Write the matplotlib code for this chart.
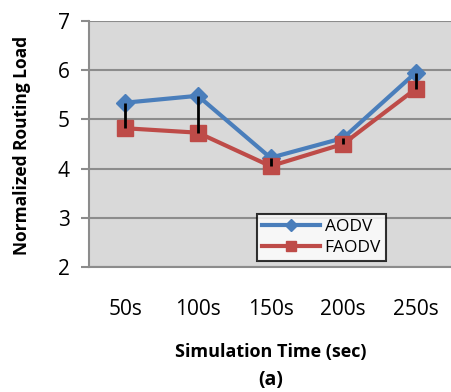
import numpy as np
import matplotlib
matplotlib.use("Agg")
import matplotlib.pyplot as plt

plt.rcParams['font.family'] = ['Open Sans', 'DejaVu Sans']

# data
times = ['50s', '100s', '150s', '200s', '250s']
aodv = [5.34, 5.48, 4.22, 4.62, 5.95]
faodv = [4.82, 4.73, 4.05, 4.50, 5.62]

fig = plt.figure(figsize=(4.51, 3.92), dpi=100)
ax = fig.add_axes([89/451, 1 - 267/392, 363/451, 246/392])
ax.set_facecolor('#d9d9d9')

x = np.arange(len(times))
ax.plot(x, aodv, color='#4a7ebb', lw=3, marker='D', ms=9, label='AODV', zorder=3)
ax.plot(x, faodv, color='#be4b48', lw=3, marker='s', ms=11, label='FAODV', zorder=3)
# high-low lines between series
ax.vlines(x, faodv, aodv, color='black', lw=2, zorder=4)

ax.set_xlim(-0.5, 4.5)
ax.set_ylim(2, 7)
ax.set_yticks([2, 3, 4, 5, 6, 7])
ax.set_xticks(x)
ax.set_xticklabels(times)
ax.yaxis.grid(True, color='#8c8c8c', lw=1.5)
ax.set_axisbelow(True)
for s in ['top', 'right', 'bottom']:
    ax.spines[s].set_visible(False)
ax.spines['left'].set_color('#8c8c8c')
ax.spines['left'].set_linewidth(1.5)
ax.tick_params(axis='y', length=6, width=1.5, color='#8c8c8c', labelsize=15, pad=8)
ax.tick_params(axis='x', length=0, labelsize=15, pad=23)
ax.axhline(2, color='#8c8c8c', lw=1.5, clip_on=False)

leg = ax.legend(loc='upper left', bbox_to_anchor=((257-89)/363, (267-214)/246),
                fontsize=12.5, frameon=True, fancybox=False, borderaxespad=0,
                handlelength=3.3, labelspacing=0.25, borderpad=0.3, handletextpad=0.3,
                markerscale=0.7)
leg.get_frame().set_edgecolor('black')
leg.get_frame().set_linewidth(1.5)

fig.text(22/451, 1 - 145/392, 'Normalized Routing Load', rotation=90, ha='center', va='center',
         fontsize=12.5, fontweight='bold')
fig.text(271/451, 1 - 352/392, 'Simulation Time (sec)', ha='center', va='center',
         fontsize=13, fontweight='bold')
fig.text(271/451, 1 - 380/392, '(a)', ha='center', va='center', fontsize=14, fontweight='bold')

fig.savefig('out.png', dpi=100)
